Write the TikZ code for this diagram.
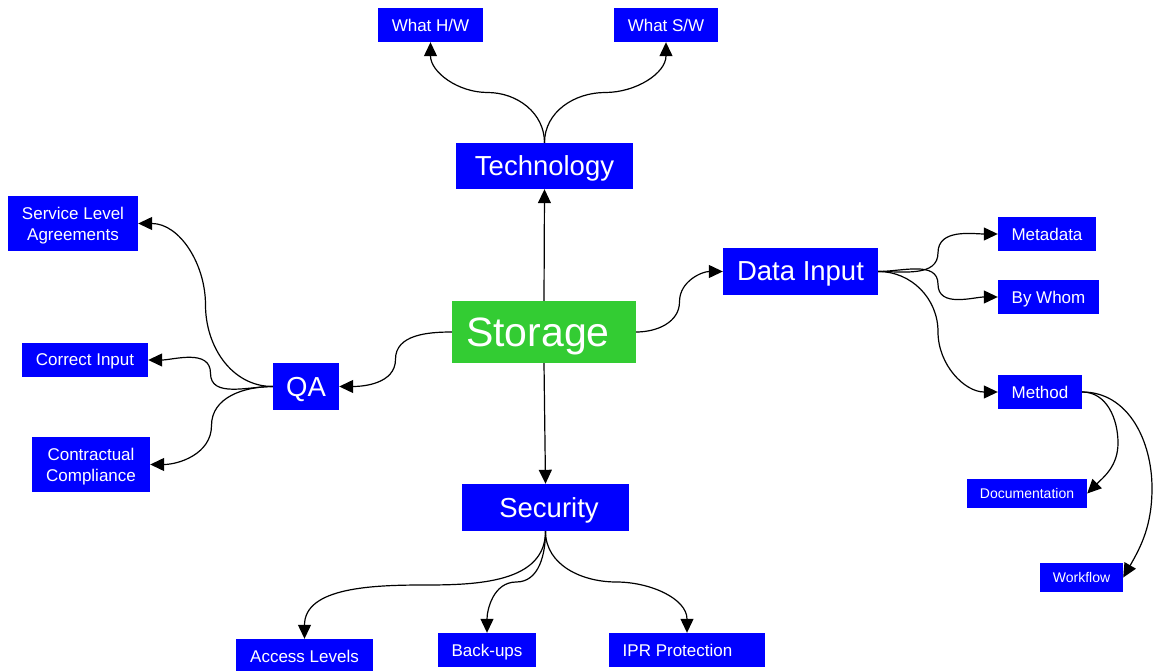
\documentclass[tikz,border=0pt]{standalone}
\usepackage{fontspec}
\setmainfont{Liberation Sans}
\usetikzlibrary{arrows.meta,calc}
\definecolor{boxblue}{RGB}{0,0,255}
\definecolor{storegreen}{RGB}{51,204,51}

\begin{document}
\begin{tikzpicture}[x=1pt,y=1pt,
  box/.style={fill=boxblue, text=white, inner sep=0pt, text depth=0pt, align=center},
  hub/.style={box, fill=storegreen, font=\fontsize{41}{48}\selectfont},
  big/.style={box, font=\fontsize{27.5}{33}\selectfont},
  small/.style={box, font=\fontsize{17}{21}\selectfont},
  tiny/.style={box, font=\fontsize{14}{17}\selectfont},
  link/.style={line width=1.2pt, -{Triangle[length=14pt,width=13pt]}},
]
\useasboundingbox (0,0) rectangle (1154,670);

% central topic
\node[hub, minimum width=184, minimum height=62] (storage) at (544,338) {Storage\hspace*{12pt}};

% main branches
\node[big, minimum width=177, minimum height=46] (tech) at (544.5,504) {Technology};
\node[big, minimum width=155, minimum height=47] (datain) at (800.5,398.5) {Data Input};
\node[big, minimum width=66, minimum height=47] (qa) at (306,283.5) {QA};
\node[big, minimum width=167, minimum height=47] (security) at (545.5,162.5) {\hspace*{7pt}Security};

% technology
\node[small, minimum width=105, minimum height=34] (hw) at (430.5,645) {What H/W};
\node[small, minimum width=104, minimum height=34] (sw) at (666,645) {What S/W};

% data input
\node[small, minimum width=98, minimum height=34] (meta) at (1047,436) {Metadata};
\node[small, minimum width=101, minimum height=34] (bywhom) at (1048.5,373) {By Whom};
\node[small, minimum width=84, minimum height=34] (method) at (1040,278) {Method};
\node[tiny, minimum width=120, minimum height=29] (doc) at (1027,176.5) {Documentation};
\node[tiny, minimum width=83, minimum height=29] (flow) at (1081.5,92.5) {Workflow};

% quality assurance
\node[small, minimum width=130, minimum height=55] (sla) at (73,446.5) {Service Level\\Agreements};
\node[small, minimum width=126, minimum height=34] (correct) at (85,310) {Correct Input};
\node[small, minimum width=118, minimum height=55] (contract) at (91,205.5) {Contractual\\Compliance};

% security
\node[small, minimum width=137, minimum height=34] (access) at (304.5,14) {Access Levels};
\node[small, minimum width=98, minimum height=34] (backups) at (487,20) {Back-ups};
\node[small, minimum width=156, minimum height=34] (ipr) at (687,20) {IPR Protection\hspace*{19pt}};

% bend points of the two long curves from Method
\coordinate (docbend) at (1118,227);
\coordinate (flowbend) at (1152,182);

% straight links
\draw[link] (storage.north) -- (tech.south);
\draw[link] (storage.south) -- (security.north);

% storage to side branches
\draw[link] (storage.west) to[out=180,in=90] ($(storage.west)!0.5!(qa.east)$) to[out=-90,in=0] (qa.east);
\draw[link] (storage.east) to[out=0,in=-90] ($(storage.east)!0.5!(datain.west)$) to[out=90,in=180] (datain.west);

% technology
\draw[link] (tech.north) to[out=90,in=0] ($(tech.north)!0.5!(hw.south)$) to[out=180,in=-90] (hw.south);
\draw[link] (tech.north) to[out=90,in=180] ($(tech.north)!0.5!(sw.south)$) to[out=0,in=-90] (sw.south);

% QA
\draw[link] (qa.west) to[out=180,in=-90] ($(qa.west)!0.5!(sla.east)$) to[out=90,in=0] (sla.east);
\draw[link] (qa.west) to[out=180,in=-90] ($(qa.west)!0.5!(correct.east)$) to[out=90,in=0] (correct.east);
\draw[link] (qa.west) to[out=180,in=90] ($(qa.west)!0.5!(contract.east)$) to[out=-90,in=0] (contract.east);

% data input
\draw[link] (datain.east) to[out=0,in=-90] ($(datain.east)!0.5!(meta.west)$) to[out=90,in=180] (meta.west);
\draw[link] (datain.east) to[out=0,in=90] ($(datain.east)!0.5!(bywhom.west)$) to[out=-90,in=180] (bywhom.west);
\draw[link] (datain.east) to[out=0,in=90] ($(datain.east)!0.5!(method.west)$) to[out=-90,in=180] (method.west);

% method
\draw[link] (method.east) to[out=0,in=90] (docbend) to[out=-90,in=45] (doc.east);
\draw[link] (method.east) to[out=0,in=90] (flowbend) to[out=-90,in=60] (flow.east);

% security
\draw[link] (security.south) to[out=-90,in=0] ($(security.south)!0.5!(access.north)$) to[out=180,in=90] (access.north);
\draw[link] (security.south) to[out=-90,in=0] ($(security.south)!0.5!(backups.north)$) to[out=180,in=90] (backups.north);
\draw[link] (security.south) to[out=-90,in=180] ($(security.south)!0.5!(ipr.north)$) to[out=0,in=90] (ipr.north);
\end{tikzpicture}
\end{document}
